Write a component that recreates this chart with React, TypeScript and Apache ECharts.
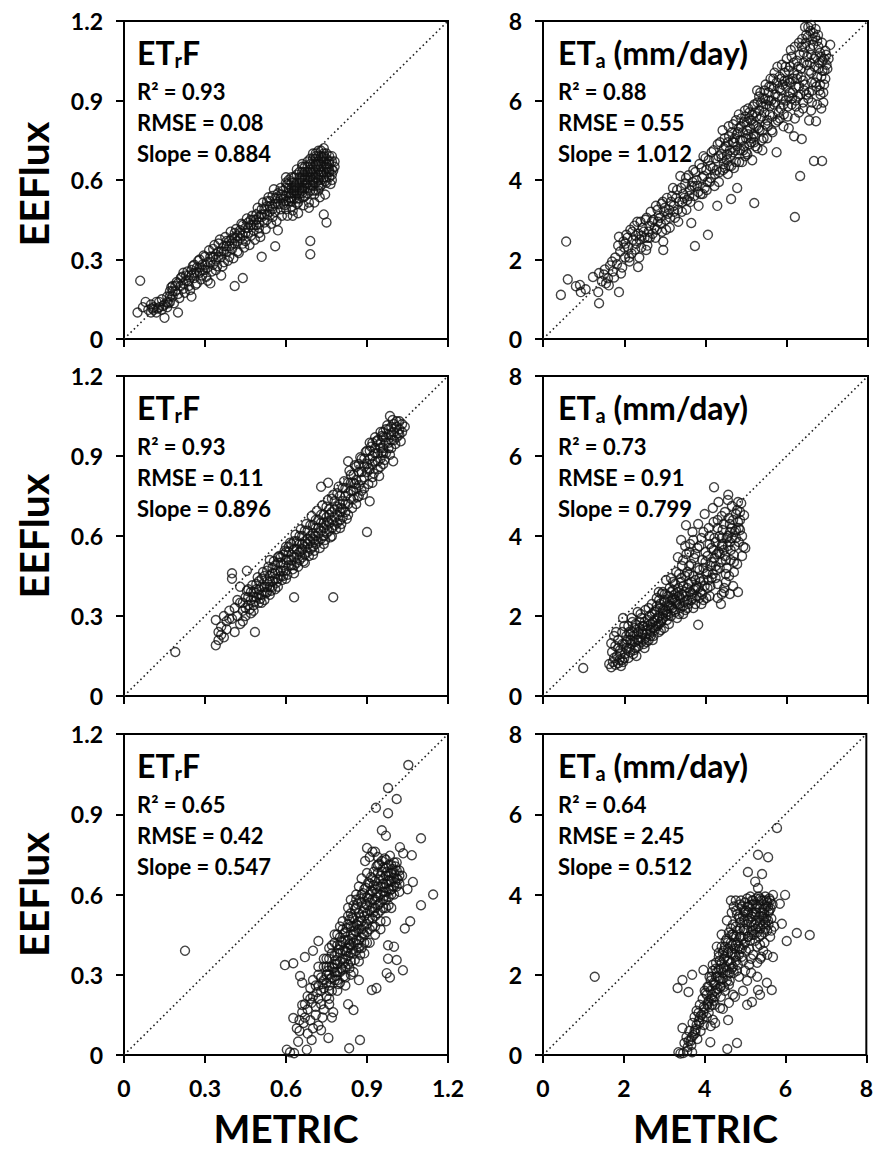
import React, { useEffect, useRef } from 'react';
import * as echarts from 'echarts';

// Axis ticks
const etrfTicks = [0, 0.3, 0.6, 0.9, 1.2];
const etaTicks = [0, 2, 4, 6, 8];

// Panel annotations (row-major: left ETrF, right ETa)
const panelKinds = ['etrf', 'eta', 'etrf', 'eta', 'etrf', 'eta'];
const r2Values = ['0.93', '0.88', '0.93', '0.73', '0.65', '0.64'];
const rmseValues = ['0.08', '0.55', '0.11', '0.91', '0.42', '2.45'];
const slopeValues = ['0.884', '1.012', '0.896', '0.799', '0.547', '0.512'];

// Row 1, ETrF: [METRIC, EEFlux]
const etrfTop: number[][] = [
  [0.05,0.10],[0.06,0.22],[0.07,0.12],[0.08,0.14],[0.09,0.11],[0.10,0.13],[0.10,0.10],[0.11,0.12],[0.12,0.14],[0.12,0.10],
  [0.13,0.12],[0.14,0.15],[0.14,0.11],[0.15,0.08],[0.15,0.13],[0.16,0.16],[0.16,0.12],[0.17,0.14],[0.17,0.18],[0.18,0.16],
  [0.18,0.20],[0.19,0.18],[0.20,0.10],[0.20,0.21],[0.20,0.17],
  [0.21,0.23],[0.22,0.19],[0.22,0.25],[0.23,0.22],[0.24,0.24],[0.24,0.20],[0.25,0.16],[0.25,0.26],[0.26,0.23],[0.26,0.28],
  [0.27,0.25],[0.27,0.21],[0.28,0.27],[0.28,0.30],[0.29,0.24],[0.29,0.28],[0.30,0.26],[0.30,0.31],[0.31,0.29],[0.31,0.22],
  [0.32,0.21],[0.32,0.31],[0.33,0.28],[0.33,0.34],[0.34,0.30],[0.34,0.26],[0.35,0.33],[0.35,0.36],[0.36,0.24],[0.36,0.31],
  [0.37,0.35],[0.37,0.29],[0.38,0.37],[0.38,0.33],[0.39,0.35],[0.39,0.31],[0.40,0.38],[0.40,0.34],
  [0.41,0.20],[0.41,0.36],[0.41,0.40],[0.42,0.37],[0.42,0.33],[0.43,0.41],[0.43,0.38],[0.44,0.23],[0.44,0.36],[0.44,0.43],
  [0.45,0.40],[0.45,0.37],[0.46,0.42],[0.46,0.44],[0.47,0.39],[0.47,0.43],[0.48,0.45],[0.48,0.41],[0.49,0.43],[0.49,0.47],
  [0.50,0.44],[0.50,0.40],[0.51,0.31],[0.51,0.46],[0.51,0.49],[0.52,0.44],[0.52,0.47],[0.53,0.50],[0.53,0.45],[0.54,0.48],
  [0.54,0.52],[0.55,0.46],[0.55,0.50],[0.56,0.35],[0.56,0.53],[0.56,0.48],[0.57,0.41],[0.57,0.51],[0.57,0.55],[0.58,0.49],
  [0.58,0.53],[0.59,0.56],[0.59,0.51],[0.60,0.61],[0.60,0.54],[0.60,0.49],
  [0.61,0.57],[0.61,0.52],[0.62,0.55],[0.62,0.59],[0.62,0.50],[0.63,0.57],[0.63,0.53],[0.63,0.61],[0.64,0.55],[0.64,0.59],
  [0.64,0.62],[0.65,0.57],[0.65,0.53],[0.65,0.61],[0.66,0.59],[0.66,0.63],[0.66,0.55],[0.67,0.61],[0.67,0.57],[0.67,0.65],
  [0.68,0.59],[0.68,0.63],[0.68,0.55],[0.69,0.32],[0.69,0.37],[0.69,0.61],[0.69,0.66],[0.69,0.58],[0.70,0.64],[0.70,0.60],
  [0.70,0.68],[0.70,0.56],[0.71,0.62],[0.71,0.66],[0.71,0.59],[0.71,0.69],[0.72,0.64],[0.72,0.71],[0.72,0.60],[0.72,0.67],
  [0.73,0.65],[0.73,0.69],[0.73,0.62],[0.73,0.58],[0.74,0.47],[0.74,0.67],[0.74,0.63],[0.74,0.70],[0.75,0.44],[0.75,0.65],
  [0.75,0.68],[0.75,0.61],[0.76,0.66],[0.76,0.63],[0.76,0.69],[0.77,0.64],[0.77,0.67],[0.78,0.65],
  [0.60,0.57],[0.61,0.55],[0.61,0.60],[0.62,0.57],[0.62,0.53],[0.63,0.55],[0.63,0.59],[0.64,0.57],[0.64,0.53],[0.65,0.59],
  [0.65,0.63],[0.65,0.55],[0.66,0.61],[0.66,0.57],[0.66,0.65],[0.67,0.59],[0.67,0.63],[0.67,0.54],[0.68,0.61],[0.68,0.65],
  [0.68,0.57],[0.69,0.63],[0.69,0.68],[0.69,0.60],[0.70,0.62],[0.70,0.66],[0.70,0.58],[0.71,0.64],[0.71,0.68],[0.71,0.61],
  [0.71,0.56],[0.72,0.66],[0.72,0.62],[0.72,0.69],[0.72,0.58],[0.73,0.67],[0.73,0.63],[0.73,0.71],[0.73,0.60],[0.74,0.65],
  [0.74,0.69],[0.74,0.61],[0.75,0.66],[0.75,0.63],[0.75,0.70],[0.76,0.64],[0.76,0.67],[0.77,0.62],[0.77,0.69],[0.76,0.61],
  [0.78,0.67],[0.74,0.72],[0.71,0.70],[0.69,0.64],[0.67,0.60],[0.63,0.56],[0.59,0.53],[0.58,0.51],[0.57,0.53],[0.56,0.51],
  [0.55,0.49],[0.54,0.50],[0.53,0.47],[0.52,0.49],[0.51,0.47],[0.50,0.46],[0.50,0.42],[0.49,0.45],[0.48,0.43],[0.47,0.45],
  [0.46,0.40],[0.45,0.42],[0.44,0.39],[0.43,0.40],[0.42,0.39],[0.41,0.38],[0.40,0.36],[0.39,0.37],[0.38,0.35],[0.37,0.33],
  [0.36,0.33],[0.35,0.31],[0.34,0.32],[0.33,0.31],[0.32,0.29],[0.31,0.27],[0.30,0.28],[0.29,0.26],[0.28,0.25],[0.27,0.27],
  [0.26,0.25],[0.25,0.24],[0.24,0.22],[0.23,0.24],[0.22,0.21],[0.21,0.20],[0.19,0.20],[0.18,0.18],[0.17,0.16],[0.16,0.14],
  [0.13,0.14],[0.11,0.11],[0.53,0.52],[0.55,0.54],[0.58,0.57],[0.60,0.59],[0.62,0.61],[0.64,0.64],[0.66,0.66],[0.68,0.67],
  [0.70,0.70],[0.60,0.52],[0.62,0.52],[0.64,0.51],[0.66,0.56],[0.69,0.56],[0.72,0.56],[0.75,0.59],[0.77,0.60],
  [0.585,0.545],[0.595,0.505],[0.605,0.585],[0.615,0.535],[0.625,0.485],[0.635,0.575],[0.645,0.515],[0.655,0.605],[0.665,0.535],[0.675,0.585],
  [0.685,0.515],[0.695,0.625],[0.705,0.545],[0.715,0.655],[0.725,0.575],[0.735,0.685],[0.745,0.595],[0.755,0.645],[0.765,0.585],[0.775,0.635],
  [0.745,0.545],[0.725,0.535],[0.705,0.515],[0.685,0.495],[0.665,0.505],[0.645,0.475],[0.625,0.465],[0.605,0.465],[0.585,0.465],[0.565,0.445],
  [0.545,0.435],[0.525,0.415],[0.505,0.385],[0.485,0.375],[0.465,0.355],[0.445,0.345],[0.425,0.325],[0.405,0.305],[0.385,0.295],[0.365,0.275],
  [0.345,0.275],[0.325,0.255],[0.305,0.235],[0.285,0.225],[0.265,0.205],[0.245,0.185],[0.225,0.175],[0.205,0.155],[0.185,0.135],[0.165,0.135],
  [0.145,0.125],[0.125,0.115],[0.105,0.115],[0.555,0.565],[0.535,0.535],[0.515,0.515],[0.495,0.495],[0.475,0.465],[0.455,0.455],[0.435,0.435],
  [0.415,0.415],[0.395,0.405],[0.375,0.385],[0.355,0.375],[0.335,0.355],[0.315,0.335],[0.295,0.315],[0.275,0.295],[0.255,0.275],[0.235,0.255],
  [0.215,0.235],[0.195,0.215],[0.175,0.195]
];

// Row 1, ETa (mm/day)
const etaTop: number[][] = [
  [0.44,1.11],[0.57,2.45],[0.61,1.50],[0.81,1.33],[0.91,1.36],[0.93,1.18],[1.05,1.25],[1.23,1.56],[1.36,1.18],[1.38,0.90],
  [1.38,1.66],[1.45,1.45],[1.50,1.62],[1.55,1.40],[1.60,1.53],[1.65,1.85],[1.70,1.95],[1.72,1.70],[1.78,2.05],[1.82,1.88],
  [1.87,1.18],[1.87,2.57],[1.90,2.20],[1.95,1.80],[1.98,2.45],
  [2.02,2.05],[2.05,2.62],[2.10,2.30],[2.15,2.75],[2.18,2.15],[2.22,2.50],[2.25,2.85],[2.30,2.40],[2.34,1.81],[2.35,2.65],
  [2.40,2.95],[2.42,2.30],[2.48,2.70],[2.54,2.24],[2.55,3.05],[2.58,2.55],[2.62,2.85],[2.65,3.20],[2.70,2.65],[2.72,3.00],
  [2.78,3.35],[2.80,2.75],[2.85,3.10],[2.90,2.90],[2.96,2.24],[2.96,2.45],[2.95,3.45],[2.98,3.20],
  [3.02,3.00],[3.05,3.55],[3.10,3.25],[3.12,2.80],[3.18,3.60],[3.22,3.35],[3.25,3.05],[3.30,3.75],[3.35,3.45],[3.38,4.10],
  [3.42,3.20],[3.45,3.65],[3.50,3.90],[3.55,3.50],[3.58,4.12],[3.62,3.75],[3.65,2.92],[3.68,3.95],[3.72,3.60],[3.74,2.34],
  [3.75,4.20],[3.80,3.85],[3.85,4.40],[3.88,3.65],[3.92,4.05],[3.95,4.60],[3.98,3.80],
  [4.02,4.25],[4.06,2.62],[4.08,4.50],[4.10,3.95],[4.15,4.70],[4.18,4.30],[4.22,3.85],[4.25,4.55],[4.29,3.35],[4.30,4.90],
  [4.35,4.20],[4.38,4.65],[4.42,5.25],[4.45,4.40],[4.50,4.85],[4.55,4.15],[4.58,5.10],[4.63,3.52],[4.62,4.60],[4.68,5.40],
  [4.70,4.95],[4.75,4.45],[4.78,3.80],[4.80,5.20],[4.82,5.65],[4.85,4.75],[4.90,5.00],[4.95,5.45],[4.98,4.60],
  [5.02,5.25],[5.05,5.80],[5.08,4.90],[5.12,5.50],[5.15,4.50],[5.18,5.15],[5.20,3.42],[5.22,5.70],[5.25,5.35],[5.28,4.80],
  [5.32,6.10],[5.35,5.55],[5.38,5.00],[5.42,5.85],[5.45,6.25],[5.48,5.40],[5.52,5.05],[5.55,6.00],[5.58,5.65],[5.62,6.35],
  [5.65,5.20],[5.68,5.90],[5.72,6.15],[5.75,4.70],[5.78,5.50],[5.82,6.30],[5.85,5.80],[5.88,6.05],[5.92,5.35],[5.95,6.50],
  [5.98,6.00],
  [6.02,5.60],[6.05,6.75],[6.08,6.20],[6.10,7.27],[6.12,5.90],[6.15,6.55],[6.18,5.10],[6.20,3.07],[6.22,6.35],[6.25,7.00],
  [6.28,6.10],[6.30,7.45],[6.33,4.10],[6.35,6.60],[6.37,5.03],[6.40,5.80],[6.42,7.20],[6.45,6.40],[6.48,7.65],[6.50,6.90],
  [6.53,7.85],[6.55,6.20],[6.58,7.30],[6.60,6.70],[6.62,5.95],[6.65,7.70],[6.67,4.48],[6.68,7.05],[6.70,6.45],[6.72,5.48],
  [6.75,7.50],[6.78,6.80],[6.80,6.25],[6.82,7.20],[6.85,6.60],[6.87,4.48],[6.88,7.00],[6.92,6.40],[6.95,7.25],[7.00,6.80],
  [7.07,7.40],[6.90,5.95],
  [4.40,4.55],[4.45,4.80],[4.52,4.50],[4.55,4.95],[4.60,4.75],[4.65,5.20],[4.68,4.70],[4.72,5.05],[4.75,5.50],[4.78,4.85],
  [4.82,5.30],[4.85,5.00],[4.88,5.55],[4.92,5.20],[4.95,4.85],[4.98,5.60],[5.00,5.05],[5.02,5.45],[5.05,5.15],[5.08,5.70],
  [5.10,5.30],[5.12,4.95],[5.15,5.65],[5.18,5.40],[5.20,5.90],[5.22,5.10],[5.25,5.60],[5.28,5.95],[5.30,5.30],[5.32,5.75],
  [5.35,6.20],[5.38,5.60],[5.40,5.25],[5.42,6.05],[5.45,5.70],[5.48,6.40],[5.50,5.90],[5.52,5.50],[5.55,6.20],[5.58,5.85],
  [5.60,6.55],[5.62,6.00],[5.65,5.60],[5.68,6.30],[5.70,6.70],[5.72,5.95],[5.75,6.45],[5.78,6.10],[5.80,5.70],[5.82,6.60],
  [5.85,6.25],[5.88,6.90],[5.90,6.40],[5.92,5.90],[5.95,6.70],[5.98,6.35],[6.00,7.05],[6.02,6.50],[6.05,6.10],[6.08,6.85],
  [6.10,6.45],[6.12,7.10],[6.15,6.20],[6.18,6.70],[6.20,7.35],[6.22,6.00],[6.25,6.55],[6.28,6.85],[6.30,6.35],[6.32,7.15],
  [6.35,6.80],[6.38,7.55],[6.40,6.50],[6.42,6.95],[6.45,7.35],[6.48,6.15],[6.50,7.10],[6.52,7.60],[6.55,6.75],[6.58,7.75],
  [6.60,7.15],[6.62,6.45],[6.65,7.40],[6.68,6.85],[6.70,7.60],[6.72,7.10],[6.75,6.60],[6.78,7.35],[6.80,6.95],[6.82,6.40],
  [6.85,7.10],[6.88,6.75],[6.90,6.20],[6.92,7.05],[6.95,6.55],[6.98,6.90],[6.40,5.95],[6.30,5.70],[6.55,5.50],[6.60,5.75],
  [6.75,5.90],[6.85,5.80],[6.20,5.55],[6.05,5.30],
  [2.00,2.30],[2.08,2.55],[2.12,2.05],[2.20,2.70],[2.28,2.60],[2.32,2.95],[2.38,2.50],[2.45,2.80],[2.50,2.55],[2.52,3.00],
  [2.60,2.70],[2.68,2.95],[2.75,2.80],[2.82,3.25],[2.88,3.05],[2.92,3.40],[3.00,3.30],[3.08,3.15],[3.15,3.45],[3.20,3.80],
  [3.28,3.55],[3.32,3.25],[3.40,3.80],[3.48,3.55],[3.52,4.05],[3.60,3.60],[3.66,3.85],[3.70,4.25],[3.78,4.00],[3.82,3.70],
  [3.90,4.30],[3.96,4.10],[4.00,4.55],[4.05,3.95],[4.12,4.35],[4.20,4.75],[4.27,4.25],[4.32,4.60],[4.36,4.95],[4.48,4.30],
  [4.58,4.35],[4.70,4.30],[4.90,4.45],[5.00,4.70],[5.20,4.95],[5.40,4.75],
  [1.52,1.75],[1.62,1.35],[1.75,1.55],[1.85,2.35],[1.92,1.65],[2.03,2.40],[2.13,1.95],[2.27,2.25],[2.37,2.05],[2.43,2.60],
  [2.57,2.35],[2.63,2.55],[2.77,2.55],[2.83,2.95],[2.93,2.70],[3.03,2.75],[3.13,3.05],[3.23,3.20],[3.33,2.95],[3.43,3.45],
  [3.53,3.25],[3.63,3.45],[3.73,3.85],[3.83,3.35],[3.93,3.65],[4.03,3.75],[4.13,4.05],[4.23,4.15],[4.33,3.95],[4.43,4.25],
  [4.53,4.65],[4.63,4.35],[4.73,4.75],[4.83,4.45],[4.93,4.75],[5.03,4.65],[5.13,5.05],[5.23,4.85],[5.33,5.25],[5.43,5.05],
  [5.53,5.35],[5.63,5.25],[5.73,5.45],[5.83,5.55],[5.93,5.65],[6.03,5.85],[6.13,6.05],[6.23,5.85],[6.33,6.15],[6.43,6.25],
  [6.53,6.05],[6.63,6.25],[6.73,6.35],[6.83,6.15],[6.93,6.75],[7.03,7.05],[6.57,6.95],[6.47,7.45],[6.37,7.35],[6.27,6.65],
  [6.17,6.95],[6.07,6.45],[5.97,6.85],[5.87,6.55],[5.77,6.85],[5.67,6.55],[5.57,6.35],[5.47,6.05],[5.37,5.95],[5.27,6.25],
  [5.17,5.85],[5.07,5.55],[4.97,5.75],[4.87,5.35],[4.77,5.15],[4.67,4.95],[4.57,5.35],[4.47,5.05],[6.63,7.55],[6.71,7.80],
  [6.77,7.65],[6.87,7.45],[6.97,7.15],[6.45,7.85],[6.60,7.90]
];

// Row 2, ETrF
const etrfMid: number[][] = [
  [0.19,0.165],[0.34,0.19],[0.35,0.21],[0.35,0.24],[0.36,0.23],[0.36,0.26],[0.37,0.22],[0.34,0.285],[0.37,0.30],[0.38,0.28],
  [0.39,0.32],[0.40,0.46],[0.40,0.44],[0.40,0.29],[0.41,0.24],[0.41,0.33],[0.42,0.30],[0.43,0.41],[0.43,0.27],[0.43,0.35],
  [0.44,0.32],[0.44,0.28],[0.45,0.37],[0.455,0.47],[0.45,0.30],[0.46,0.34],[0.46,0.40],[0.47,0.36],[0.47,0.31],[0.48,0.39],
  [0.485,0.24],[0.48,0.34],[0.49,0.37],[0.49,0.42],[0.50,0.35],[0.50,0.40],[0.51,0.38],[0.51,0.44],[0.52,0.41],[0.52,0.36],
  [0.53,0.43],[0.53,0.39],[0.54,0.51],[0.54,0.45],[0.54,0.41],[0.55,0.43],[0.55,0.48],[0.56,0.40],[0.56,0.46],[0.57,0.50],
  [0.57,0.44],[0.58,0.47],[0.58,0.52],[0.59,0.45],[0.59,0.49],[0.60,0.54],[0.60,0.47],[0.61,0.51],[0.61,0.56],[0.62,0.49],
  [0.62,0.53],[0.63,0.37],[0.63,0.58],[0.63,0.52],[0.64,0.55],[0.64,0.50],[0.65,0.60],[0.65,0.54],[0.66,0.57],[0.66,0.52],
  [0.67,0.62],[0.67,0.56],[0.68,0.59],[0.68,0.54],[0.69,0.64],[0.69,0.58],[0.70,0.61],[0.70,0.56],[0.71,0.66],[0.71,0.60],
  [0.72,0.63],[0.72,0.58],[0.73,0.785],[0.73,0.68],[0.73,0.62],[0.74,0.65],[0.74,0.60],[0.75,0.71],[0.756,0.80],[0.75,0.64],
  [0.76,0.68],[0.76,0.62],[0.77,0.74],[0.775,0.37],[0.77,0.66],[0.78,0.70],[0.78,0.64],[0.79,0.76],[0.79,0.68],[0.80,0.72],
  [0.80,0.66],[0.81,0.78],[0.81,0.70],[0.82,0.75],[0.82,0.69],[0.83,0.88],[0.83,0.80],[0.83,0.72],[0.84,0.77],[0.84,0.83],
  [0.85,0.74],[0.85,0.80],[0.86,0.86],[0.86,0.78],[0.87,0.84],[0.87,0.75],[0.88,0.89],[0.88,0.81],[0.89,0.86],[0.89,0.78],
  [0.90,0.615],[0.90,0.92],[0.90,0.84],[0.91,0.73],[0.91,0.89],[0.91,0.95],[0.92,0.87],[0.92,0.82],[0.93,0.93],[0.93,0.97],
  [0.93,0.88],[0.94,0.91],[0.94,0.85],[0.95,0.95],[0.95,0.99],[0.95,0.89],[0.96,0.93],[0.96,0.97],[0.96,0.87],[0.97,1.00],
  [0.97,0.95],[0.97,0.91],[0.98,0.98],[0.985,1.05],[0.98,0.93],[0.99,1.01],[0.99,0.96],[0.997,0.88],[1.00,0.99],[1.00,1.02],
  [1.01,0.97],[1.01,1.01],[1.02,1.00],[1.02,1.03],[1.03,0.99],[1.03,1.02],[1.04,1.01],
  [0.44,0.35],[0.45,0.33],[0.46,0.37],[0.47,0.39],[0.48,0.37],[0.49,0.40],[0.50,0.38],[0.50,0.43],[0.51,0.41],[0.52,0.39],
  [0.52,0.45],[0.53,0.41],[0.53,0.47],[0.54,0.43],[0.55,0.46],[0.55,0.41],[0.56,0.49],[0.56,0.44],[0.57,0.47],[0.57,0.52],
  [0.58,0.45],[0.58,0.50],[0.59,0.53],[0.59,0.47],[0.60,0.51],[0.60,0.56],[0.61,0.49],[0.61,0.54],[0.62,0.57],[0.62,0.51],
  [0.63,0.55],[0.63,0.49],[0.64,0.58],[0.64,0.53],[0.65,0.57],[0.65,0.51],[0.66,0.60],[0.66,0.55],[0.67,0.58],[0.67,0.53],
  [0.68,0.62],[0.68,0.57],[0.69,0.60],[0.69,0.55],[0.70,0.64],[0.70,0.59],[0.71,0.63],[0.71,0.57],[0.72,0.66],[0.72,0.61],
  [0.73,0.65],[0.73,0.59],[0.74,0.68],[0.74,0.63],[0.75,0.67],[0.75,0.61],[0.76,0.70],[0.76,0.65],[0.77,0.69],[0.77,0.63],
  [0.78,0.73],[0.78,0.67],[0.79,0.71],[0.79,0.65],[0.80,0.75],[0.80,0.69],[0.81,0.73],[0.81,0.67],[0.82,0.78],[0.82,0.72],
  [0.83,0.76],[0.84,0.80],[0.84,0.74],[0.85,0.83],[0.85,0.77],[0.86,0.81],[0.87,0.87],[0.87,0.79],[0.88,0.84],[0.89,0.89],
  [0.89,0.82],[0.90,0.87],[0.91,0.92],[0.91,0.85],[0.92,0.90],[0.92,0.95],[0.93,0.91],[0.94,0.96],[0.94,0.88],[0.95,0.93],
  [0.96,0.99],[0.96,0.91],[0.97,0.97],[0.98,1.00],[0.98,0.95],[0.99,0.98],[1.00,0.96],[1.01,1.03],[1.02,0.98],[0.99,0.93],
  [0.95,0.86],[0.92,0.80],[0.88,0.77],[0.86,0.72],[0.83,0.68],[0.80,0.63],[0.77,0.60],[0.74,0.57],[0.70,0.53],[0.67,0.50],
  [0.63,0.46],[0.60,0.44],[0.57,0.41],[0.54,0.38],[0.51,0.35],[0.48,0.32],[0.42,0.36],[0.39,0.29],[0.38,0.25],
  [0.455,0.395],[0.475,0.415],[0.495,0.445],[0.515,0.465],[0.535,0.485],[0.555,0.505],[0.575,0.525],[0.595,0.545],[0.615,0.575],[0.635,0.605],
  [0.655,0.625],[0.675,0.645],[0.695,0.675],[0.715,0.695],[0.735,0.715],[0.755,0.735],[0.775,0.755],[0.795,0.785],[0.815,0.805],[0.835,0.845],
  [0.855,0.865],[0.875,0.895],[0.895,0.915],[0.915,0.935],[0.935,0.955],[0.955,0.975],[0.975,1.015],[0.995,1.035],[0.465,0.325],[0.485,0.355],
  [0.505,0.365],[0.525,0.385],[0.545,0.395],[0.565,0.425],[0.585,0.435],[0.605,0.455],[0.625,0.475],[0.645,0.485],[0.665,0.505],[0.685,0.525],
  [0.705,0.545],[0.725,0.555],[0.745,0.585],[0.765,0.595],[0.785,0.625],[0.805,0.645],[0.825,0.665],[0.845,0.705],[0.865,0.745],[0.885,0.755],
  [0.905,0.795],[0.925,0.835],[0.945,0.825],[0.965,0.885],[0.985,0.905],[1.005,0.945],[1.025,0.955],[0.655,0.545],[0.705,0.585],[0.755,0.655],
  [0.805,0.705],[0.855,0.795],[0.905,0.855],[0.955,0.915],[1.015,0.985]
];

// Row 2, ETa (mm/day)
const etaMid: number[][] = [
  [0.99,0.70],[1.63,0.80],[1.68,0.72],[1.72,0.85],[1.78,0.78],[1.85,0.82],[1.92,0.75],[1.97,0.85],[1.68,1.32],[1.70,1.10],
  [1.75,1.50],[1.78,1.25],[1.82,1.00],[1.85,1.40],[1.90,1.15],[1.95,1.60],[1.97,1.95],[2.00,1.30],[2.02,1.05],[2.05,1.50],
  [2.10,1.75],[2.12,1.20],[2.15,1.40],[2.18,1.95],[2.20,1.60],[2.22,1.05],[2.25,1.35],[2.28,1.80],[2.30,1.55],[2.33,2.10],
  [2.35,1.25],[2.38,1.70],[2.40,1.45],[2.42,1.95],[2.45,1.60],[2.48,1.30],[2.50,1.85],[2.52,2.15],[2.55,1.55],[2.58,1.75],
  [2.60,1.40],[2.62,2.00],[2.65,1.65],[2.68,2.30],[2.70,1.85],[2.72,1.50],[2.75,2.10],[2.78,1.75],[2.80,2.45],[2.82,1.95],
  [2.85,1.60],[2.86,2.40],[2.88,2.20],[2.90,1.85],[2.92,2.55],[2.95,2.05],[2.98,1.70],[3.00,2.35],[3.03,2.90],[3.02,2.15],
  [3.05,1.90],[3.08,2.50],[3.10,2.25],[3.12,2.70],[3.15,2.00],[3.18,2.40],[3.20,2.85],[3.22,2.15],[3.25,2.55],[3.28,3.10],
  [3.30,2.30],[3.32,3.47],[3.33,2.70],[3.35,2.05],[3.38,2.45],[3.40,3.90],[3.40,2.85],[3.42,3.25],[3.45,2.25],[3.48,2.60],
  [3.50,3.00],[3.52,4.27],[3.53,3.55],[3.55,2.40],[3.58,2.80],[3.60,3.25],[3.62,3.80],[3.65,2.55],[3.68,4.10],[3.70,3.00],
  [3.72,3.45],[3.75,2.30],[3.78,2.75],[3.80,3.70],[3.82,1.78],[3.82,4.30],[3.85,3.15],[3.88,2.60],[3.90,3.95],[3.92,3.40],
  [3.95,2.90],[3.98,4.55],[4.00,3.60],[4.02,2.45],[4.05,3.10],[4.08,4.20],[4.10,3.80],[4.12,2.75],[4.15,3.35],[4.18,4.70],
  [4.21,5.22],[4.22,3.95],[4.25,2.95],[4.28,3.55],[4.30,4.40],[4.32,4.85],[4.35,3.20],[4.38,2.30],[4.40,3.75],[4.42,4.15],
  [4.45,2.60],[4.46,2.70],[4.48,4.60],[4.50,3.40],[4.52,3.95],[4.55,4.90],[4.56,5.03],[4.58,3.00],[4.60,4.30],[4.62,3.65],
  [4.65,4.75],[4.68,2.75],[4.70,3.52],[4.72,4.10],[4.75,4.55],[4.78,3.30],[4.80,4.85],[4.82,3.85],[4.85,4.40],[4.88,4.82],
  [4.90,4.00],[4.93,3.73],[4.95,4.52],[4.98,3.70],
  [1.90,1.05],[1.95,1.30],[2.00,0.95],[2.05,1.20],[2.08,1.40],[2.12,1.60],[2.15,1.10],[2.18,1.30],[2.22,1.50],[2.25,1.70],
  [2.28,1.20],[2.32,1.40],[2.35,1.60],[2.38,1.85],[2.42,1.35],[2.45,1.55],[2.48,1.75],[2.52,1.45],[2.55,1.65],[2.58,1.90],
  [2.62,1.55],[2.65,1.80],[2.68,2.05],[2.72,1.70],[2.75,1.90],[2.78,2.15],[2.82,1.75],[2.85,2.00],[2.88,2.30],[2.92,1.90],
  [2.95,2.15],[2.98,2.40],[3.02,2.00],[3.05,2.25],[3.08,2.05],[3.12,2.35],[3.15,2.60],[3.18,2.20],[3.22,2.45],[3.25,2.10],
  [3.28,2.35],[3.32,2.60],[3.35,2.30],[3.38,2.20],[3.42,2.55],[3.45,2.75],[3.48,2.35],[3.52,2.50],[3.55,2.70],[3.58,2.30],
  [3.62,2.60],[3.65,2.85],[3.68,2.45],[3.72,2.65],[3.75,2.90],[3.78,2.50],[3.82,2.70],[3.85,2.45],[3.88,2.85],[3.92,2.55],
  [3.95,3.20],[3.98,2.75],[4.02,3.05],[4.05,3.50],[4.08,2.90],[4.12,3.25],[4.15,3.70],[4.18,3.05],[4.22,3.45],[4.25,3.85],
  [4.28,3.15],[4.32,3.60],[4.35,4.00],[4.38,3.35],[4.42,3.80],[4.45,4.30],[4.48,3.50],[4.52,3.20],[4.55,4.00],[4.58,4.45],
  [4.62,3.40],[4.65,3.95],[4.68,4.40],[4.72,3.75],[4.75,4.15],[4.78,4.65],[4.82,4.20],[4.85,4.60],[4.60,3.85],[4.40,4.50],
  [4.30,4.20],[4.20,4.35],[4.10,4.00],[3.95,4.10],[3.85,3.75],[3.75,3.55],[3.65,3.30],[3.55,3.10],[3.45,3.40],[3.70,3.90],
  [3.60,3.60],[3.50,3.75],[3.35,3.05],[3.25,2.80],[3.15,2.95],[2.95,2.60],[2.85,2.60],[4.50,2.85],[4.40,2.55],[4.30,2.45],
  [4.60,2.55],[4.70,3.10],[4.80,2.60],
  [1.75,0.95],[1.85,1.20],[1.95,0.90],[2.05,1.35],[2.15,1.55],[2.25,1.15],[2.35,1.40],[2.45,1.75],[2.55,1.35],[2.65,1.50],
  [2.75,1.65],[2.85,1.80],[2.95,1.95],[3.05,2.10],[3.15,2.25],[3.25,2.40],[3.35,2.50],[3.45,2.05],[3.55,2.20],[3.65,2.40],
  [3.75,2.70],[3.85,2.95],[3.95,2.40],[4.05,2.70],[4.15,2.95],[4.25,3.25],[4.35,3.55],[4.45,3.65],[4.55,3.75],[4.65,4.20],
  [4.75,3.95],[4.85,4.15],[1.80,1.60],[2.00,1.75],[2.20,1.85],[2.40,2.05],[2.60,2.20],[2.80,2.25],[3.00,2.55],[3.20,2.65],
  [3.40,2.95],[3.60,3.05],[3.80,3.20],[4.00,3.35],[4.20,3.65],[4.40,3.95],[4.60,4.10],[4.80,4.35],[3.30,1.95],[3.50,2.15],
  [3.70,2.20],[3.90,2.30],[4.10,2.50],[4.30,2.80],[4.50,3.05],[4.70,3.35],[4.90,3.50],[3.10,1.80],[2.90,1.65],[2.70,1.40],
  [2.50,1.20],[2.30,1.00],[2.10,0.95],[1.88,0.90]
];

// Row 3, ETrF
const etrfBottom: number[][] = [
  [0.226,0.39],[0.596,0.336],[0.627,0.343],[0.652,0.295],[0.66,0.27],[0.67,0.366],[0.70,0.39],[0.72,0.426],[0.627,0.138],[0.66,0.187],
  [0.603,0.02],[0.615,0.01],[0.63,0.007],[0.645,0.05],[0.65,0.09],[0.665,0.12],[0.677,0.02],[0.68,0.08],[0.695,0.056],[0.69,0.13],
  [0.70,0.10],[0.71,0.15],[0.72,0.11],[0.73,0.093],[0.735,0.14],[0.757,0.064],[0.834,0.025],[0.874,0.056],[0.83,0.19],[0.85,0.168],
  [0.775,0.16],[0.77,0.14],[0.76,0.19],[0.918,0.243],[0.935,0.25],[0.973,0.306],[0.985,0.29],[1.033,0.317],[1.01,0.355],[0.978,0.36],
  [0.978,0.41],[1.04,0.473],[1.10,0.56],[1.145,0.60],[1.07,0.647],[1.10,0.81],[1.066,0.747],[1.053,1.084],[0.978,0.998],[1.01,0.957],
  [0.933,0.924],[0.978,0.904],[0.955,0.84],[0.97,0.82],[0.90,0.774],[0.93,0.76],[0.893,0.725],[1.022,0.777],[1.034,0.754],[1.0,0.405],
  [1.06,0.50],[1.05,0.62],[0.68,0.17],[0.69,0.21],[0.67,0.14],[0.74,0.17],[0.76,0.21],
  [0.70,0.22],[0.71,0.18],[0.71,0.26],[0.72,0.21],[0.72,0.30],[0.73,0.24],[0.73,0.19],[0.74,0.28],[0.74,0.33],[0.75,0.22],
  [0.75,0.30],[0.75,0.36],[0.76,0.26],[0.76,0.33],[0.77,0.29],[0.77,0.38],[0.77,0.24],[0.78,0.34],[0.78,0.42],[0.78,0.28],
  [0.79,0.31],[0.79,0.38],[0.79,0.45],[0.80,0.35],[0.80,0.27],[0.80,0.41],[0.81,0.32],[0.81,0.47],[0.81,0.39],[0.82,0.36],
  [0.82,0.43],[0.82,0.29],[0.83,0.40],[0.83,0.49],[0.83,0.34],[0.84,0.45],[0.84,0.38],[0.84,0.53],[0.85,0.42],[0.85,0.31],
  [0.85,0.48],[0.86,0.46],[0.86,0.55],[0.86,0.39],[0.87,0.50],[0.87,0.43],[0.87,0.28],[0.88,0.47],[0.88,0.57],[0.88,0.40],
  [0.89,0.52],[0.89,0.45],[0.89,0.62],[0.90,0.49],[0.90,0.56],[0.90,0.42],[0.91,0.54],[0.91,0.60],[0.91,0.47],[0.92,0.58],
  [0.92,0.51],[0.92,0.66],[0.93,0.55],[0.93,0.62],[0.93,0.48],[0.94,0.59],[0.94,0.53],[0.94,0.68],[0.95,0.57],[0.95,0.63],
  [0.95,0.50],[0.96,0.61],[0.96,0.66],[0.96,0.55],[0.97,0.64],[0.97,0.58],[0.97,0.70],[0.98,0.62],[0.98,0.67],[0.98,0.56],
  [0.99,0.65],[0.99,0.71],[0.99,0.60],[1.00,0.68],[1.00,0.63],[1.01,0.66],[1.01,0.72],[1.02,0.64],[1.02,0.69],[1.03,0.67],
  [0.91,0.74],[0.92,0.76],[0.88,0.66],[0.86,0.60],[0.84,0.58],
  [0.74,0.25],[0.75,0.27],[0.76,0.30],[0.76,0.36],[0.77,0.33],[0.77,0.41],[0.78,0.31],[0.78,0.37],[0.79,0.34],[0.79,0.41],
  [0.79,0.28],[0.80,0.38],[0.80,0.44],[0.80,0.31],[0.81,0.36],[0.81,0.42],[0.81,0.50],[0.82,0.39],[0.82,0.46],[0.82,0.33],
  [0.83,0.43],[0.83,0.37],[0.83,0.52],[0.84,0.41],[0.84,0.48],[0.84,0.35],[0.85,0.45],[0.85,0.51],[0.85,0.38],[0.86,0.43],
  [0.86,0.49],[0.86,0.58],[0.87,0.47],[0.87,0.53],[0.87,0.40],[0.88,0.50],[0.88,0.44],[0.88,0.60],[0.89,0.48],[0.89,0.55],
  [0.89,0.42],[0.90,0.53],[0.90,0.59],[0.90,0.46],[0.91,0.51],[0.91,0.57],[0.91,0.64],[0.92,0.55],[0.92,0.61],[0.92,0.48],
  [0.93,0.58],[0.93,0.65],[0.93,0.52],[0.94,0.56],[0.94,0.63],[0.94,0.71],[0.95,0.60],[0.95,0.67],[0.95,0.54],[0.96,0.58],
  [0.96,0.64],[0.96,0.70],[0.97,0.61],[0.97,0.67],[0.97,0.55],[0.98,0.65],[0.98,0.59],[0.98,0.71],[0.99,0.62],[0.99,0.68],
  [1.00,0.66],[1.00,0.60],[1.00,0.72],[1.01,0.63],[1.01,0.69],[1.02,0.67],[1.02,0.61],[0.97,0.73],[0.94,0.74],[0.90,0.68],
  [0.87,0.63],[0.85,0.56],[0.83,0.55],[0.80,0.48],[0.78,0.45],[0.76,0.40],[0.74,0.36],[0.72,0.33],[0.70,0.28],[0.69,0.25],
  [0.68,0.22],[0.67,0.19],[0.66,0.16],[0.65,0.13],[0.64,0.10],[0.72,0.26],[0.73,0.29],[0.75,0.33],[0.87,0.35],[0.89,0.38],
  [0.91,0.42],[0.93,0.45],[0.95,0.47],[0.97,0.50],[0.99,0.55],[0.84,0.30],[0.82,0.26],[0.79,0.24],[0.76,0.24],
  [0.765,0.285],[0.775,0.325],[0.785,0.355],[0.795,0.395],[0.805,0.425],[0.815,0.455],[0.825,0.475],[0.835,0.505],[0.845,0.515],[0.855,0.545],
  [0.865,0.565],[0.875,0.585],[0.885,0.605],[0.895,0.625],[0.905,0.645],[0.915,0.665],[0.925,0.685],[0.935,0.705],[0.945,0.715],[0.955,0.725],
  [0.965,0.735],[0.985,0.745],[0.805,0.325],[0.815,0.345],[0.825,0.385],[0.835,0.415],[0.845,0.435],[0.855,0.465],[0.865,0.485],[0.875,0.515],
  [0.885,0.535],[0.895,0.565],[0.905,0.585],[0.915,0.615],[0.925,0.635],[0.935,0.605],[0.945,0.655],[0.955,0.685],[0.965,0.625],[0.975,0.685],
  [0.985,0.655],[0.995,0.695],[1.005,0.705],[1.015,0.655],[0.845,0.395],[0.865,0.415],[0.885,0.455],[0.905,0.505],[0.925,0.535],[0.945,0.565],
  [0.965,0.595],[0.985,0.615],[1.005,0.645],[0.735,0.265],[0.755,0.315],[0.715,0.235],[0.695,0.195],[0.785,0.295],[0.795,0.265],[0.815,0.295],
  [0.835,0.325],[0.855,0.355],[0.875,0.375]
];

// Row 3, ETa (mm/day)
const etaBottom: number[][] = [
  [1.28,1.95],[5.79,5.66],[5.32,4.99],[5.57,4.93],[5.07,4.56],[5.42,4.51],[5.25,4.32],[5.32,4.16],[5.99,3.99],[5.69,3.99],
  [5.86,3.77],[5.91,3.27],[6.28,3.04],[6.60,2.99],[6.03,2.84],[5.69,2.44],[5.66,1.62],[5.54,1.80],[5.32,1.62],[5.37,1.50],
  [5.17,1.32],[5.05,1.25],[5.30,1.95],[3.33,1.67],[3.45,1.87],[3.60,1.57],[3.69,2.00],[3.97,2.12],[3.45,0.67],[3.35,0.07],
  [3.40,0.04],[3.47,0.05],[3.69,0.07],[4.14,0.32],[4.56,0.15],[4.80,0.30],[4.58,0.87],[4.26,0.80],[4.70,1.50],[4.38,1.17],
  [4.15,0.72],[4.20,0.88],
  [3.50,0.30],[3.55,0.45],[3.58,0.20],[3.62,0.60],[3.65,0.35],[3.70,0.80],[3.72,0.50],[3.75,0.95],[3.78,0.65],[3.80,1.10],
  [3.82,0.40],[3.85,0.85],[3.88,1.25],[3.90,0.60],[3.92,1.00],[3.95,1.40],[3.98,0.75],[4.00,1.15],[4.02,1.55],[4.05,0.95],
  [4.08,1.30],[4.10,1.70],
  [4.12,1.20],[4.15,1.85],[4.18,1.50],[4.20,2.10],[4.22,1.35],[4.25,1.75],[4.28,2.30],[4.30,1.55],[4.32,1.95],[4.35,2.55],
  [4.38,1.70],[4.40,2.15],[4.42,2.70],[4.45,1.90],[4.48,2.40],[4.50,1.60],[4.52,2.85],[4.55,2.10],[4.58,2.55],[4.60,3.05],
  [4.62,1.85],[4.65,2.30],[4.68,2.75],[4.70,3.25],[4.72,2.05],[4.75,2.50],[4.78,2.95],[4.80,3.50],[4.82,2.25],[4.85,2.70],
  [4.88,3.15],[4.90,3.85],[4.92,2.45],[4.95,2.90],[4.98,3.35],[5.00,3.80],[5.02,2.60],[5.05,3.10],[5.08,3.55],[5.10,2.25],
  [5.12,2.85],[5.15,3.30],[5.18,3.75],[5.20,2.50],[5.22,3.00],[5.25,3.50],[5.28,3.90],[5.30,2.70],[5.32,3.20],[5.35,3.65],
  [5.38,2.40],[5.40,3.00],[5.42,3.45],[5.45,3.85],[5.48,2.80],[5.50,3.30],[5.52,3.70],[5.55,3.10],[5.58,3.55],[5.60,3.90],
  [5.62,2.95],[5.65,3.40],[5.68,3.75],[5.72,3.20],[4.65,3.85],[4.72,3.70],[4.55,3.35],[4.42,3.00],[4.30,2.70],[4.85,1.95],
  [5.00,2.10],[5.15,2.05],[5.05,1.85],[4.95,1.60],[4.75,1.45],[4.60,1.30],[4.45,1.15],[5.40,2.45],[5.55,2.50],
  [4.05,1.50],[4.10,1.35],[4.15,1.60],[4.18,1.25],[4.22,1.80],[4.25,1.45],[4.28,1.95],[4.32,1.65],[4.35,2.15],[4.38,1.85],
  [4.40,1.45],[4.42,2.30],[4.45,2.05],[4.48,1.70],[4.50,2.45],[4.52,2.20],[4.55,1.85],[4.58,2.65],[4.60,2.35],[4.62,2.05],
  [4.65,2.80],[4.68,2.50],[4.70,2.20],[4.72,2.95],[4.75,2.65],[4.78,2.35],[4.80,3.10],[4.82,2.80],[4.85,2.50],[4.88,3.30],
  [4.90,2.95],[4.92,2.65],[4.95,3.45],[4.98,3.10],[5.00,2.80],[5.02,3.60],[5.05,3.25],[5.08,2.95],[5.10,3.70],[5.12,3.40],
  [5.15,3.10],[5.18,3.55],[5.20,3.85],[5.22,3.25],[5.25,3.65],[5.28,3.35],[5.30,3.05],[5.32,3.75],[5.35,3.45],[5.38,3.15],
  [5.40,3.85],[5.42,3.55],[5.45,3.25],[5.48,3.65],[5.50,3.95],[5.52,3.40],[5.55,3.80],[5.58,3.25],[5.60,3.60],[5.62,3.85],
  [5.65,3.10],[4.30,2.05],[4.45,2.55],[4.55,2.90],[4.70,3.00],[4.85,3.45],[5.00,3.55],[5.10,2.65],[5.25,2.85],[4.95,2.35],
  [4.80,2.10],[4.60,1.75],[4.40,1.70],[4.25,1.25],[4.10,1.05],[3.98,1.20],[3.88,0.95],[3.95,0.90],[3.85,1.05],[3.80,0.75],
  [3.75,0.60],[3.68,0.45],[3.60,0.35],[4.00,1.60],[4.12,1.95],[4.20,2.25],[4.35,2.45],[4.50,2.70],[4.65,3.15],[4.78,3.60],
  [4.92,3.70],[5.05,3.90],[5.20,3.10],[5.35,2.95],[5.50,3.15],[5.45,2.60],[5.30,2.30],[5.15,2.40],
  [4.07,1.70],[4.17,1.95],[4.27,2.15],[4.37,2.35],[4.47,2.60],[4.57,2.80],[4.67,3.00],[4.77,3.20],[4.87,3.40],[4.97,3.60],
  [5.07,3.70],[5.17,3.85],[5.27,3.75],[5.37,3.90],[5.47,3.55],[5.57,3.70],[4.27,1.60],[4.37,1.90],[4.47,2.15],[4.57,2.35],
  [4.67,2.55],[4.77,2.75],[4.87,2.95],[4.97,3.15],[5.07,3.35],[5.17,3.45],[5.27,3.55],[5.37,3.30],[5.47,3.40],[5.57,3.35],
  [4.57,2.00],[4.67,2.15],[4.77,2.45],[4.87,2.65],[4.97,2.75],[5.07,2.95],[5.17,3.00],[5.27,3.15],[5.37,2.75],[5.47,3.05],
  [3.97,1.05],[4.07,1.25],[4.17,1.40],[3.87,0.80],[3.77,0.55],[3.67,0.25],[3.57,0.10],[4.67,3.55],[4.77,3.85],[4.87,3.75],
  [5.13,3.95],[5.33,3.95],[5.53,3.85],[5.63,3.65]
];

const panelData = [etrfTop, etaTop, etrfMid, etaMid, etrfBottom, etaBottom];

// Layout (pixels)
const colLeft = [124, 543];
const colWidth = [324, 325];
const rowTop = [21, 376, 734];
const rowHeight = [318, 320, 321];

const FONT = 'Lato, "Open Sans", sans-serif';

export default function App() {
  const ref = useRef<HTMLDivElement>(null);

  useEffect(() => {
    if (!ref.current) return;
    const chart = echarts.init(ref.current, undefined, { renderer: 'svg' });

    const grids: any[] = [];
    const xAxes: any[] = [];
    const yAxes: any[] = [];
    const series: any[] = [];
    const graphics: any[] = [];

    panelData.forEach((data, i) => {
      const r = Math.floor(i / 2);
      const c = i % 2;
      const ticks = panelKinds[i] === 'etrf' ? etrfTicks : etaTicks;
      const min = ticks[0];
      const max = ticks[ticks.length - 1];
      const interval = ticks[1] - ticks[0];
      grids.push({
        left: colLeft[c], top: rowTop[r], width: colWidth[c], height: rowHeight[r],
        show: true, borderColor: '#000', borderWidth: 2, backgroundColor: 'rgba(0,0,0,0)',
      });
      const axisCommon = {
        type: 'value', gridIndex: i, min, max, interval,
        axisLine: { show: true, onZero: false, lineStyle: { color: '#000', width: 2 } },
        axisTick: { show: true, inside: false, length: 8, lineStyle: { color: '#000', width: 2 } },
        splitLine: { show: false },
      };
      xAxes.push({
        ...axisCommon,
        axisLabel: { show: r === 2, margin: 21, fontFamily: FONT, fontWeight: 'bold', fontSize: 23, color: '#000' },
      });
      yAxes.push({
        ...axisCommon,
        axisLabel: { show: true, margin: 21, fontFamily: FONT, fontWeight: 'bold', fontSize: 23, color: '#000' },
      });
      series.push({
        type: 'line', xAxisIndex: i, yAxisIndex: i, data: [[min, min], [max, max]],
        symbol: 'none', silent: true,
        lineStyle: { color: '#222', width: 1.6, type: [1.6, 3] },
      });
      series.push({
        type: 'scatter', xAxisIndex: i, yAxisIndex: i, data,
        symbol: 'circle', symbolSize: 9, silent: true,
        itemStyle: { color: 'rgba(0,0,0,0)', borderColor: '#111', borderWidth: 1.4 },
      });

      const tx = colLeft[c] + (c === 0 ? 13 : 15);
      const top = rowTop[r];
      const titleText = panelKinds[i] === 'etrf'
        ? '{a|ET}{b|r}{a|F}'
        : '{a|ET}{b|a}{a| (mm/day)}';
      graphics.push({
        type: 'text', x: tx, y: top + 31, silent: true,
        style: {
          text: titleText, align: 'left', verticalAlign: 'middle', fill: '#000',
          rich: {
            a: { fontFamily: FONT, fontWeight: 'bold', fontSize: 32, lineHeight: 36, fill: '#000' },
            b: { fontFamily: FONT, fontWeight: 'bold', fontSize: 20, lineHeight: 21, verticalAlign: 'bottom', fill: '#000' },
          },
        },
      });
      const lines = [
        'R\u00B2 = ' + r2Values[i],
        'RMSE = ' + rmseValues[i],
        'Slope = ' + slopeValues[i],
      ];
      const offs = [70, 101, 132];
      lines.forEach((t, k) => {
        graphics.push({
          type: 'text', x: tx, y: top + offs[k], silent: true,
          style: { text: t, fontFamily: FONT, fontWeight: 'bold', fontSize: 22, fill: '#000', align: 'left', verticalAlign: 'middle' },
        });
      });
    });

    rowTop.forEach((t, r) => {
      graphics.push({
        type: 'text', x: 33, y: t + rowHeight[r] / 2 + (r === 0 ? 4 : 0), rotation: Math.PI / 2, silent: true,
        style: { text: 'EEFlux', fontFamily: FONT, fontWeight: 'bold', fontSize: 41, fill: '#000', align: 'center', verticalAlign: 'middle' },
      });
    });
    colLeft.forEach((l, c) => {
      graphics.push({
        type: 'text', x: l + colWidth[c] / 2, y: 1128, silent: true,
        style: { text: 'METRIC', fontFamily: FONT, fontWeight: 'bold', fontSize: 39, fill: '#000', align: 'center', verticalAlign: 'middle' },
      });
    });

    chart.setOption({
      animation: false,
      backgroundColor: '#fff',
      grid: grids,
      xAxis: xAxes,
      yAxis: yAxes,
      series,
      graphic: graphics,
    });

    return () => chart.dispose();
  }, []);

  return (
    <div
      ref={ref}
      style={{ position: 'absolute', left: 0, top: 0, width: 876, height: 1153, background: '#fff' }}
    />
  );
}
